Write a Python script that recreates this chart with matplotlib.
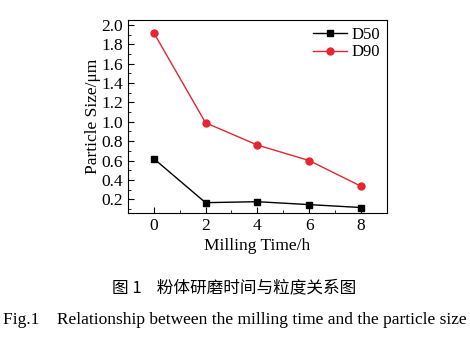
import numpy as np
import matplotlib.pyplot as plt
from matplotlib.ticker import MultipleLocator

plt.rcParams['font.family'] = ['Liberation Serif', 'Noto Sans CJK SC']
plt.rcParams['mathtext.fontset'] = 'stix'

time_h = [0, 2, 4, 6, 8]
d50 = [0.62, 0.165, 0.175, 0.145, 0.115]
d90 = [1.92, 0.99, 0.76, 0.60, 0.335]

fig = plt.figure(figsize=(4.7, 3.4), dpi=100)
ax = fig.add_axes([0.272, 0.374, 0.551, 0.567])

ax.plot(time_h, d50, color="black", marker="s", markersize=5, linewidth=1, label="D50")
ax.plot(time_h, d90, color="#e3262f", marker="o", markersize=5, linewidth=1, label="D90")

ax.set_xlim(-1, 9)
ax.set_ylim(0.06, 2.05)
ax.xaxis.set_major_locator(MultipleLocator(2))
ax.xaxis.set_minor_locator(MultipleLocator(1))
ax.yaxis.set_major_locator(MultipleLocator(0.2))
ax.yaxis.set_minor_locator(MultipleLocator(0.1))
ax.yaxis.set_major_formatter(plt.FormatStrFormatter("%.1f"))
ax.tick_params(which="both", direction="in", top=False, right=False, labelsize=12.5)
ax.tick_params(which="major", length=4)
ax.tick_params(which="minor", length=2)

ax.set_xlabel("Milling Time/h", fontsize=12.5, labelpad=3)
ax.set_ylabel("Particle Size/μm", fontsize=12.5, labelpad=0)

ax.legend(loc="upper right", frameon=False, fontsize=12, handlelength=2.0,
          borderaxespad=0.0, handletextpad=0.3, labelspacing=0.1)

fig.text(0.498, 0.153, "图 1    粉体研磨时间与粒度关系图", ha="center", va="center",
         fontsize=12, family=['Noto Sans CJK SC', 'DejaVu Sans'])
fig.text(0.5, 0.059, "Fig.1    Relationship between the milling time and the particle size",
         ha="center", va="center", fontsize=12.5)

fig.savefig("out.png")
